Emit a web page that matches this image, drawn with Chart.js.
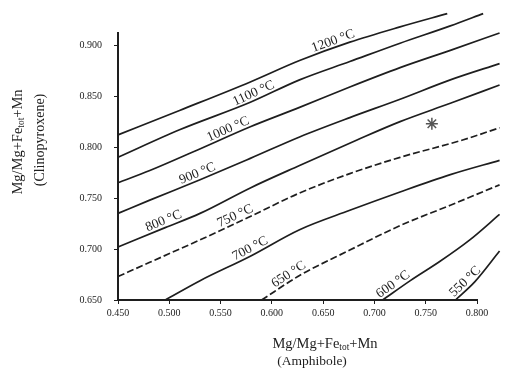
<!DOCTYPE html>
<html>
<head>
<meta charset="utf-8">
<script src="https://cdn.jsdelivr.net/npm/chart.js@4"></script>
<style>
  html, body { margin: 0; padding: 0; background: #fff; }
  #wrap { width: 526px; height: 382px; }
</style>
</head>
<body>
<div id="wrap"><canvas id="isoChart"></canvas></div>
<script>
/* Amphibole - clinopyroxene Mg# isotherms */
const xTicks = [0.45, 0.50, 0.55, 0.60, 0.65, 0.70, 0.75, 0.80];
const yTicks = [0.65, 0.70, 0.75, 0.80, 0.85, 0.90];

const isoNames = ['1200 °C', '1100 °C', '1000 °C', '900 °C', '800 °C', '750 °C', '700 °C', '650 °C', '600 °C', '550 °C'];
const isoLabelX = [0.662, 0.585, 0.560, 0.530, 0.497, 0.567, 0.582, 0.620, 0.722, 0.793];
const isoDashed = ['750 °C', '650 °C'];

const iso1200 = [[0.450,0.812],[0.510,0.836],[0.579,0.864],[0.627,0.885],[0.676,0.903],[0.725,0.918],[0.771,0.931]];
const iso1100 = [[0.450,0.790],[0.510,0.817],[0.579,0.844],[0.627,0.866],[0.676,0.884],[0.725,0.902],[0.774,0.919],[0.806,0.931]];
const iso1000 = [[0.450,0.765],[0.481,0.777],[0.527,0.797],[0.579,0.820],[0.627,0.839],[0.676,0.859],[0.725,0.878],[0.774,0.895],[0.822,0.912]];
const iso900  = [[0.450,0.735],[0.481,0.748],[0.530,0.768],[0.579,0.789],[0.627,0.810],[0.676,0.829],[0.725,0.847],[0.774,0.866],[0.822,0.882]];
const iso800  = [[0.450,0.702],[0.496,0.721],[0.530,0.735],[0.579,0.760],[0.627,0.782],[0.683,0.807],[0.725,0.825],[0.774,0.843],[0.822,0.861]];
const iso750  = [[0.450,0.673],[0.481,0.687],[0.530,0.709],[0.579,0.732],[0.627,0.755],[0.676,0.774],[0.725,0.790],[0.786,0.807],[0.822,0.819]];
const iso700  = [[0.496,0.650],[0.530,0.669],[0.579,0.693],[0.627,0.719],[0.676,0.738],[0.725,0.756],[0.774,0.773],[0.822,0.787]];
const iso650  = [[0.590,0.650],[0.627,0.674],[0.676,0.699],[0.725,0.723],[0.774,0.743],[0.822,0.763]];
const iso600  = [[0.708,0.650],[0.735,0.669],[0.764,0.688],[0.793,0.709],[0.822,0.734]];
const iso550  = [[0.779,0.650],[0.798,0.668],[0.822,0.698]];
const isoCurves = [iso1200, iso1100, iso1000, iso900, iso800, iso750, iso700, iso650, iso600, iso550];

const samplePoint = [[0.756, 0.823]];

const serif = '"Liberation Serif", "DejaVu Serif", serif';
const ink = '#1e1e1e';

const datasets = isoCurves.map((pts, i) => ({
  label: isoNames[i],
  data: pts.map(p => ({ x: p[0], y: p[1] })),
  showLine: true,
  borderColor: ink,
  borderWidth: 1.7,
  borderDash: isoDashed.includes(isoNames[i]) ? [7, 3] : [],
  pointRadius: 0,
  cubicInterpolationMode: 'monotone',
  clip: false
}));
datasets.push({
  label: 'sample',
  data: samplePoint.map(p => ({ x: p[0], y: p[1] })),
  pointStyle: 'star',
  pointRadius: 6,
  borderColor: '#555',
  borderWidth: 1.5,
  clip: false
});

// curve labels written along the isotherms
const isoLabelPlugin = {
  id: 'isoLabels',
  afterDatasetsDraw(chart) {
    const ctx = chart.ctx;
    const xs = chart.scales.x;
    isoNames.forEach((name, i) => {
      const pts = chart.getDatasetMeta(i).data;
      const px = xs.getPixelForValue(isoLabelX[i]);
      const yAt = (x) => {
        for (let k = 0; k < pts.length - 1; k++) {
          if (x >= pts[k].x && x <= pts[k + 1].x) {
            const t = (x - pts[k].x) / (pts[k + 1].x - pts[k].x);
            return pts[k].y + t * (pts[k + 1].y - pts[k].y);
          }
        }
        return pts[pts.length - 1].y;
      };
      const py = yAt(px);
      const ang = Math.atan2(yAt(px + 6) - yAt(px - 6), 12);
      ctx.save();
      ctx.translate(px, py);
      ctx.rotate(ang);
      ctx.font = '13.5px ' + serif;
      ctx.fillStyle = ink;
      ctx.textAlign = 'center';
      ctx.textBaseline = 'bottom';
      ctx.fillText(name, 0, 0);
      ctx.restore();
    });
  }
};

// axis titles with subscript
function drawTitle(ctx, x, y, size) {
  const parts = [['Mg/Mg+Fe', size, 0], ['tot', size * 0.65, size * 0.25], ['+Mn', size, 0]];
  let w = 0;
  parts.forEach(p => { ctx.font = p[1] + 'px ' + serif; w += ctx.measureText(p[0]).width; });
  let cx = x - w / 2;
  parts.forEach(p => {
    ctx.font = p[1] + 'px ' + serif;
    ctx.fillText(p[0], cx, y + p[2]);
    cx += ctx.measureText(p[0]).width;
  });
}

const titlePlugin = {
  id: 'axisTitles',
  afterDraw(chart) {
    const ctx = chart.ctx;
    ctx.save();
    ctx.fillStyle = ink;
    ctx.textBaseline = 'middle';
    ctx.textAlign = 'left';
    drawTitle(ctx, 325, 344, 14.5);
    ctx.textAlign = 'center';
    ctx.font = '13.5px ' + serif;
    ctx.fillText('(Amphibole)', 312, 361);
    ctx.restore();

    ctx.save();
    ctx.fillStyle = ink;
    ctx.translate(18, 142);
    ctx.rotate(-Math.PI / 2);
    ctx.textBaseline = 'middle';
    ctx.textAlign = 'left';
    drawTitle(ctx, 0, 0, 14.5);
    ctx.restore();

    ctx.save();
    ctx.fillStyle = ink;
    ctx.translate(40, 140);
    ctx.rotate(-Math.PI / 2);
    ctx.textBaseline = 'middle';
    ctx.textAlign = 'center';
    ctx.font = '14px ' + serif;
    ctx.fillText('(Clinopyroxene)', 0, 0);
    ctx.restore();
  }
};

new Chart(document.getElementById('isoChart'), {
  type: 'scatter',
  data: { datasets },
  options: {
    responsive: true, maintainAspectRatio: false, animation: false,
    layout: { padding: { top: 33, right: 49, left: 0, bottom: 0 } },
    plugins: { legend: { display: false }, tooltip: { enabled: false } },
    scales: {
      x: {
        type: 'linear', min: 0.45, max: 0.80,
        afterBuildTicks: s => { s.ticks = xTicks.map(v => ({ value: v })); },
        afterFit: s => { s.height = 82; },
        ticks: { callback: v => v.toFixed(3), font: { family: serif, size: 10 }, color: '#222', padding: 3, maxRotation: 0 },
        grid: { drawOnChartArea: false, tickLength: 4, color: ink },
        border: { color: ink, width: 2 }
      },
      y: {
        type: 'linear', min: 0.65, max: 0.912,
        afterBuildTicks: s => { s.ticks = yTicks.map(v => ({ value: v })); },
        afterFit: s => { s.width = 118; },
        ticks: { callback: v => v.toFixed(3), font: { family: serif, size: 10 }, color: '#222', padding: 12 },
        grid: { drawOnChartArea: false, tickLength: 4, color: ink },
        border: { color: ink, width: 2 }
      }
    }
  },
  plugins: [isoLabelPlugin, titlePlugin]
});
</script>
</body>
</html>
